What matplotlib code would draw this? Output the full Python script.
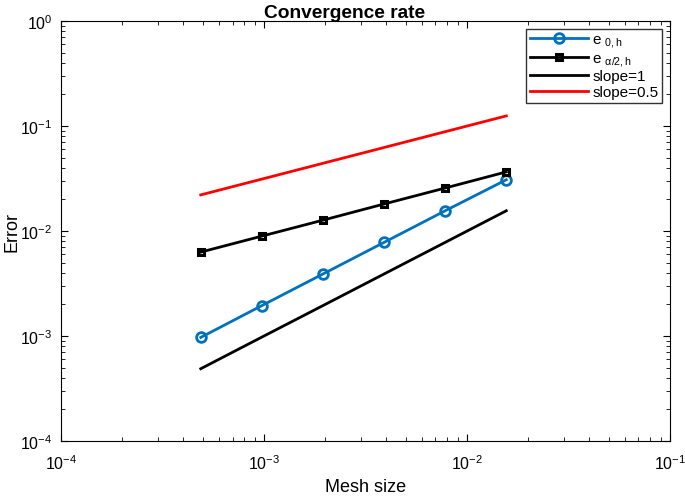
import matplotlib
matplotlib.use("Agg")
import matplotlib.pyplot as plt
import numpy as np

plt.rcParams['font.family'] = ['Liberation Sans', 'DejaVu Sans']
plt.rcParams['mathtext.default'] = 'regular'

# mesh sizes h = 1/2048 ... 1/64
h = [1/2048, 1/1024, 1/512, 1/256, 1/128, 1/64]
e0 = [9.7e-4, 1.95e-3, 3.9e-3, 7.8e-3, 0.0156, 0.0308]
ealpha = [6.3e-3, 8.95e-3, 0.0127, 0.0181, 0.0257, 0.0366]
slope1 = [4.88e-4, 9.77e-4, 1.95e-3, 3.9e-3, 7.8e-3, 0.0156]
slope05 = [0.0221, 0.03125, 0.0442, 0.0625, 0.0884, 0.125]

xticks = [1e-4, 1e-3, 1e-2, 1e-1]
xticklabels = [r'$10^{-4}$', r'$10^{-3}$', r'$10^{-2}$', r'$10^{-1}$']
yticks = [1e-4, 1e-3, 1e-2, 1e-1, 1e0]
yticklabels = [r'$10^{-4}$', r'$10^{-3}$', r'$10^{-2}$', r'$10^{-1}$', r'$10^{0}$']

fig = plt.figure(figsize=(6.85, 5.02), dpi=100)
ax = fig.add_axes([0.089, 0.1195, 0.889, 0.8365])

blue = (0, 0.447, 0.741)
ax.loglog(h, e0, '-o', color=blue, lw=2, ms=7, mfc='none', mew=2, label=r'e $_{0,h}$')
ax.loglog(h, ealpha, '-s', color='k', lw=2, ms=5, mfc='none', mew=2.2, label=r'e $_{\alpha/2,h}$')
ax.loglog(h, slope1, '-', color='k', lw=2, label='slope=1')
ax.loglog(h, slope05, '-', color='r', lw=2, label='slope=0.5')

ax.set_xlim(1e-4, 1e-1)
ax.set_ylim(1e-4, 1e0)
ax.set_xticks(xticks)
ax.set_xticklabels(xticklabels)
ax.set_yticks(yticks)
ax.set_yticklabels(yticklabels)
ax.tick_params(which='both', direction='in', top=True, right=True, labelsize=11.5)
ax.tick_params(which='major', length=5)
ax.tick_params(which='minor', length=3)
ax.tick_params(axis='x', pad=9)
ax.tick_params(axis='y', pad=6)
ax.set_xlabel('Mesh size', fontsize=13)
ax.set_ylabel('Error', fontsize=13)
ax.xaxis.set_label_coords(0.5, -0.088)
ax.yaxis.set_label_coords(-0.066, 0.5)
ax.set_title('Convergence rate', fontsize=13.8, fontweight='bold', pad=3)
ax.title.set_x(0.465)

leg = ax.legend(loc='upper right', fontsize=11, fancybox=False, edgecolor='k',
                handlelength=3.8, handletextpad=0.3, borderpad=0.25,
                labelspacing=0.1, borderaxespad=0.5)
leg.get_frame().set_linewidth(1)

fig.savefig('out.png', dpi=100)
